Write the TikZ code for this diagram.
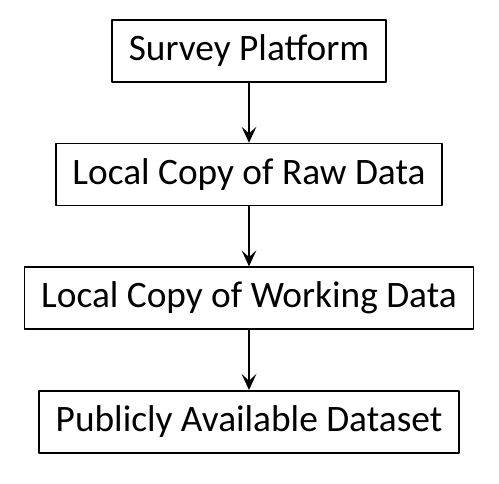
\documentclass[tikz,border=0pt]{standalone}
\usepackage{fontspec}
\setmainfont{Carlito}
\usetikzlibrary{positioning,arrows.meta}

\begin{document}
\begin{tikzpicture}[font=\fontsize{28}{33}\selectfont, line cap=round, line join=round, >={Stealth[length=12pt,width=11pt,inset=5pt]},
  stepbox/.style={draw, line width=1.2pt, inner xsep=12.5pt, minimum height=46.5pt},
  node distance=45pt]

% Khung ảnh
\useasboundingbox (0,0) rectangle (374.25pt,-362.25pt);

% Các hộp của quy trình
\node[stepbox] (survey) at (186.75pt,-38.25pt) {Survey Platform};
\node[stepbox, below=of survey] (rawCopy) {Local Copy of Raw Data};
\node[stepbox, below=of rawCopy] (workCopy) {Local Copy of Working Data};
\node[stepbox, below=of workCopy] (dataset) {Publicly Available Dataset};

% Các mũi tên nối
\draw[->, line width=1.2pt] (survey) -- (rawCopy);
\draw[->, line width=1.2pt] (rawCopy) -- (workCopy);
\draw[->, line width=1.2pt] (workCopy) -- (dataset);

\end{tikzpicture}
\end{document}
